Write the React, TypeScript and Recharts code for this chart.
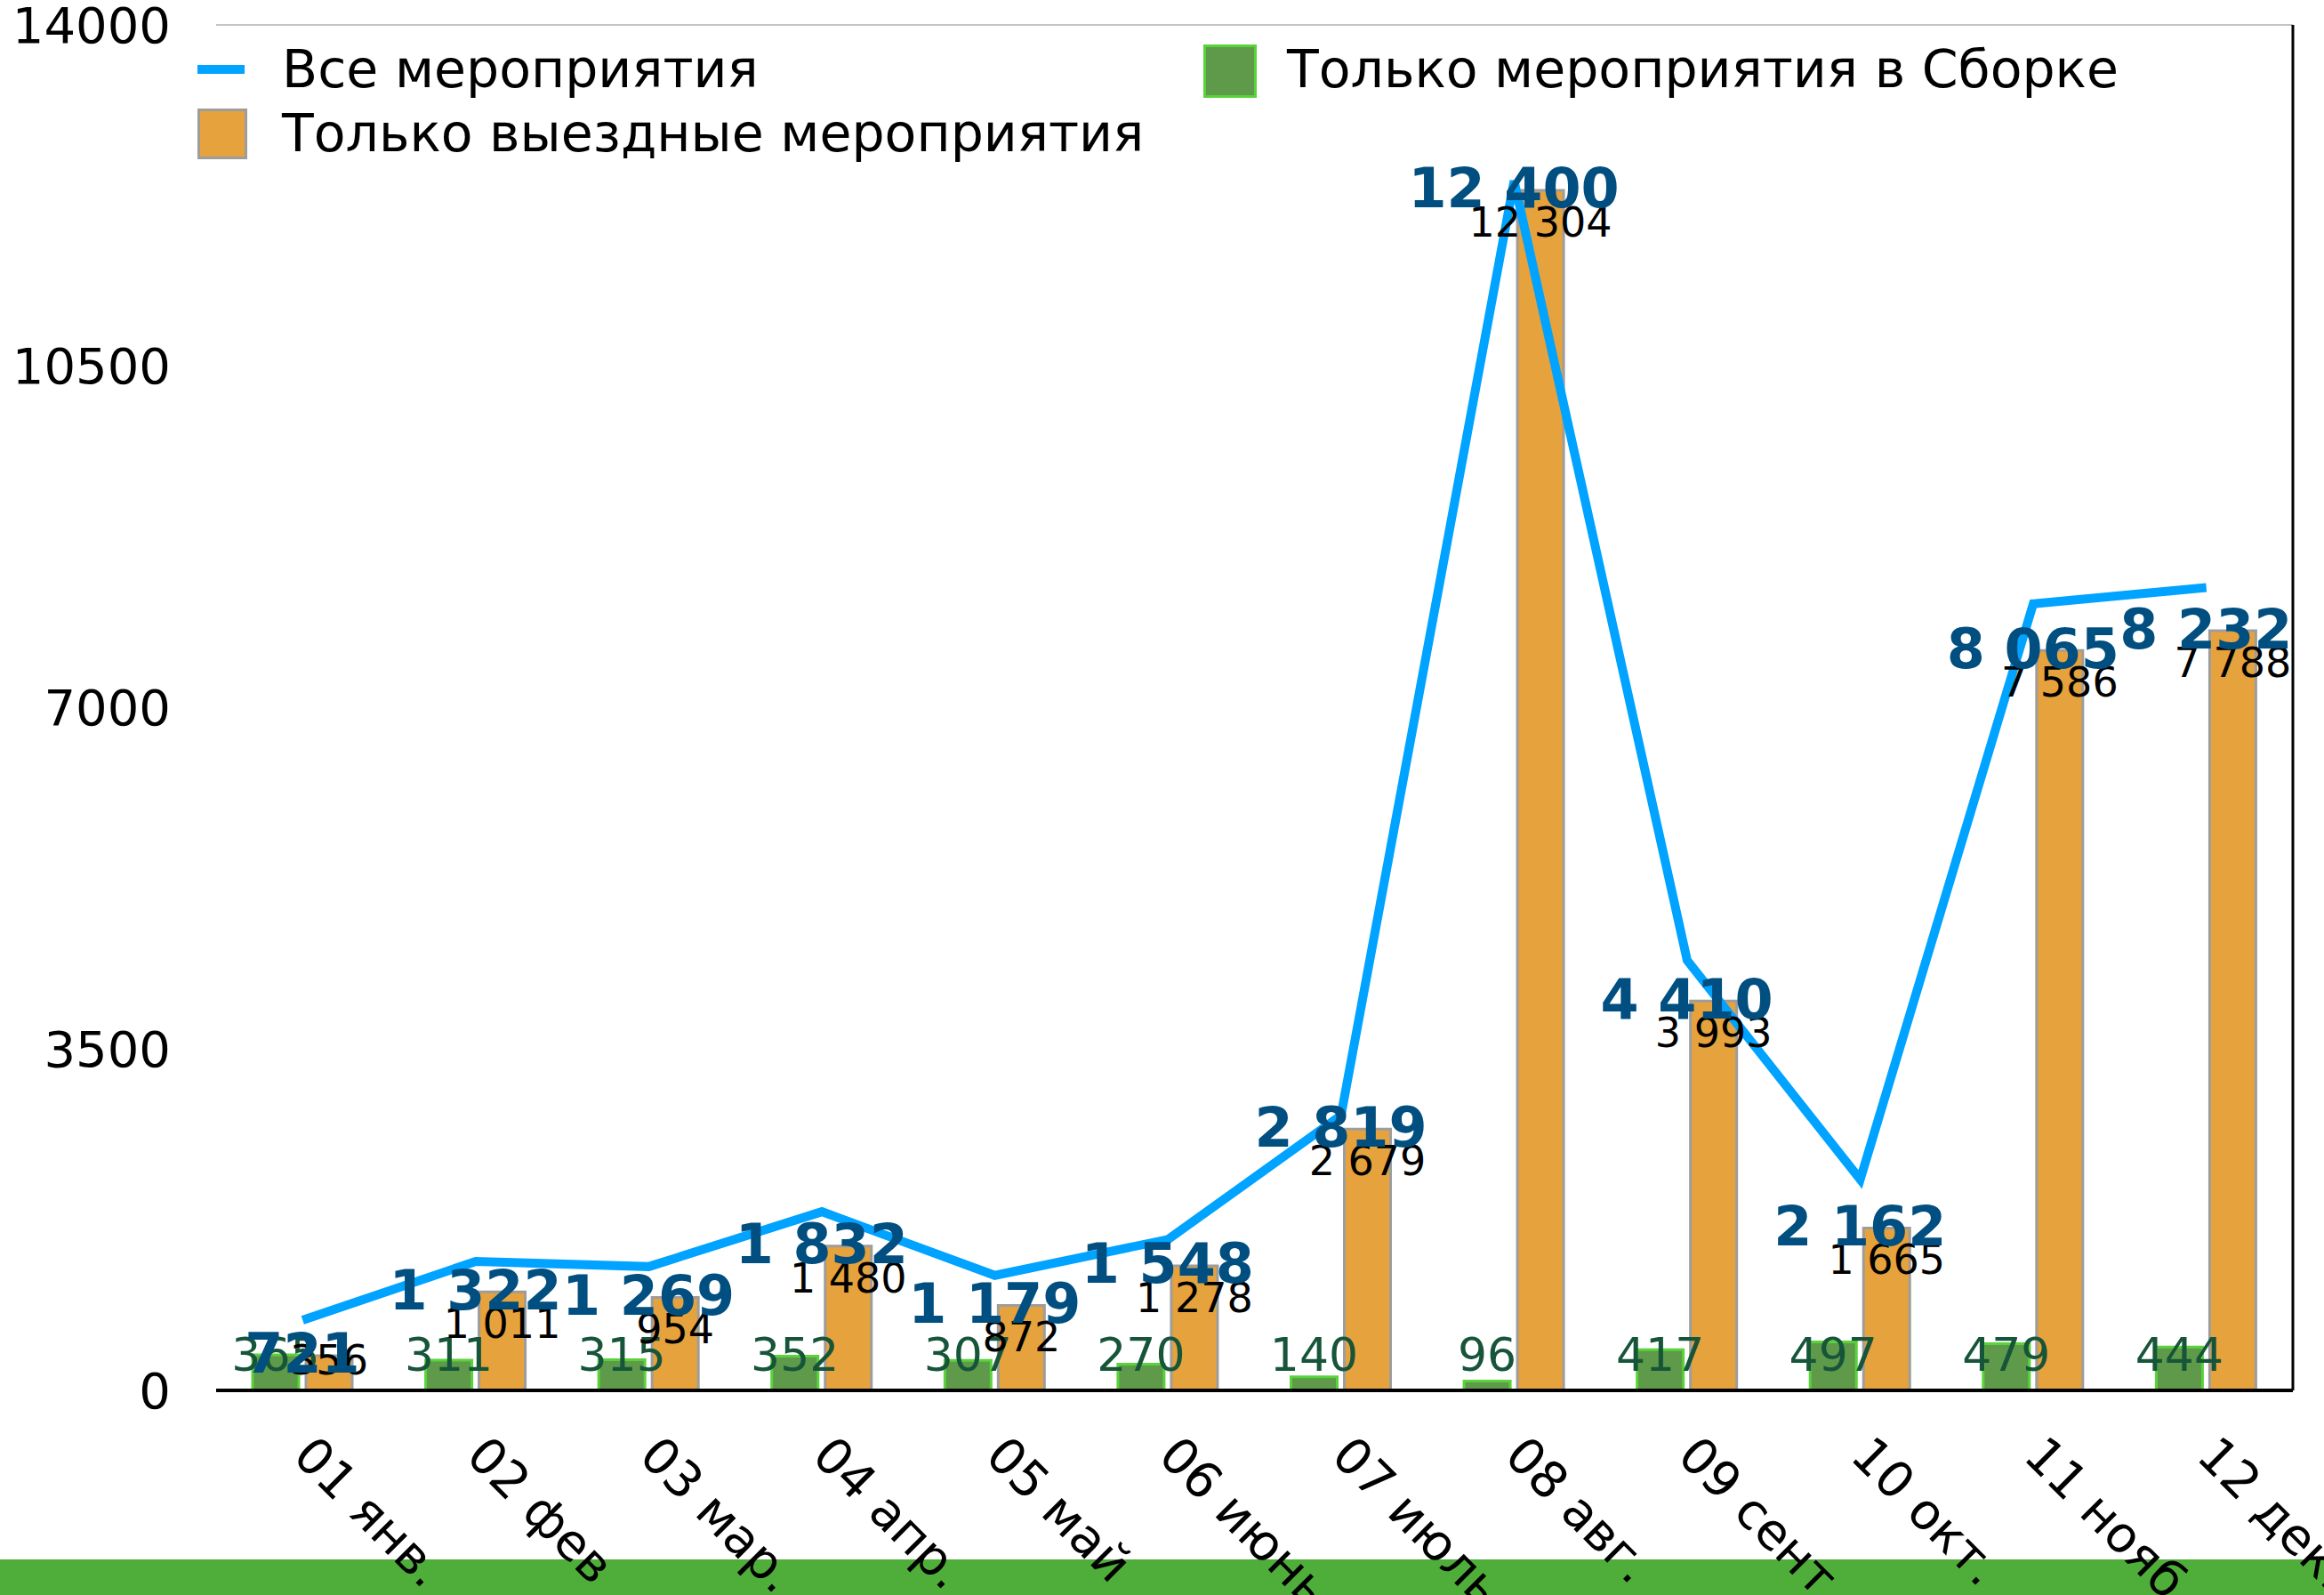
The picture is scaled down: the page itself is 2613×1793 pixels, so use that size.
import React from "react";
import { ComposedChart, Bar, Line, XAxis, YAxis, CartesianGrid, LabelList } from "recharts";

const months = ["01 янв.", "02 фев", "03 мар.", "04 апр.", "05 май", "06 июнь", "07 июль", "08 авг.", "09 сент.", "10 окт.", "11 нояб.", "12 дек."];
const allEvents = [721, 1322, 1269, 1832, 1179, 1548, 2819, 12400, 4410, 2162, 8065, 8232];
const awayEvents = [356, 1011, 954, 1480, 872, 1278, 2679, 12304, 3993, 1665, 7586, 7788];
const sborkaEvents = [365, 311, 315, 352, 307, 270, 140, 96, 417, 497, 479, 444];
const yTicks = [0, 3500, 7000, 10500, 14000];

const data = months.map((m, i) => ({ month: m, all: allEvents[i], away: awayEvents[i], sborka: sborkaEvents[i] }));

const FONT = "'DejaVu Sans', sans-serif";
const W = 2613;
const H = 1793;

// 12 400 -> "12 400"
const fmt = (v: number) => String(v).replace(/\B(?=(\d{3})+(?!\d))/g, " ");

const XTick = (props: any) => {
  const { x, y, payload } = props;
  const tx = x - 13;
  const ty = y + 76;
  return (
    <text x={tx} y={ty} transform={`rotate(45, ${tx}, ${ty})`} fontFamily={FONT} fontSize={56} fill="#000" textAnchor="start">
      {payload.value}
    </text>
  );
};

const YTick = (props: any) => {
  const { x, y, payload } = props;
  return (
    <text x={x - 51} y={y} fontFamily={FONT} fontSize={56} fill="#000" textAnchor="end" dominantBaseline="central">
      {payload.value}
    </text>
  );
};

const SborkaLabel = (props: any) => {
  const { x, y, width, height, value } = props;
  return (
    <text x={x + width / 2} y={y + height - 40} fontFamily={FONT} fontSize={52} fill="#17553a" textAnchor="middle" dominantBaseline="central">
      {fmt(value)}
    </text>
  );
};

const AwayLabel = (props: any) => {
  const { x, y, width, height, value } = props;
  // small bars: keep the label just above the base, like the original
  const cy = Math.min(y + 36, y + height - 34);
  return (
    <text x={x + width / 2} y={cy} fontFamily={FONT} fontSize={46} fill="#000" textAnchor="middle" dominantBaseline="central">
      {fmt(value)}
    </text>
  );
};

const AllLabel = (props: any) => {
  const { x, y, height, value } = props;
  const cy = Math.min(y - 2, y + height - 34);
  return (
    <text x={x - 4} y={cy} fontFamily={FONT} fontSize={62} fontWeight={700} fill="#004f80" textAnchor="middle" dominantBaseline="central">
      {fmt(value)}
    </text>
  );
};

const legendText: React.CSSProperties = {
  position: "absolute",
  fontFamily: FONT,
  fontSize: 58.5,
  lineHeight: "60px",
  color: "#000",
  whiteSpace: "nowrap",
};

export default function App() {
  return (
    <div style={{ position: "absolute", left: 0, top: 0, width: W, height: H, background: "#fff", overflow: "hidden" }}>
      <div style={{ position: "absolute", left: 0, top: 1753, width: W, height: 40, background: "#4fad3a" }} />
      <div style={{ position: "absolute", left: 0, top: 0 }}>
        <ComposedChart width={W} height={H} data={data} margin={{ top: 28, right: 34, bottom: 0, left: 0 }} barSize={52} barGap={8}>
          <CartesianGrid vertical={false} stroke="#c4c4c4" strokeWidth={2} />
          <XAxis dataKey="month" height={230} tickLine={false} tickSize={0} tickMargin={0} axisLine={{ stroke: "#000", strokeWidth: 4 }} tick={<XTick />} interval={0} />
          <YAxis yAxisId="l" width={243} domain={[0, 14000]} ticks={yTicks} axisLine={false} tickLine={false} tickSize={0} tickMargin={0} tick={<YTick />} />
          <YAxis yAxisId="r" orientation="right" width={1} domain={[0, 14000]} ticks={yTicks} tick={false} tickLine={false} axisLine={{ stroke: "#000", strokeWidth: 3 }} />
          <Bar yAxisId="l" dataKey="sborka" fill="#5e9a49" stroke="#5ad33b" strokeWidth={3} isAnimationActive={false}>
            <LabelList dataKey="sborka" content={<SborkaLabel />} />
          </Bar>
          <Bar yAxisId="l" dataKey="away" fill="#e6a23c" stroke="#9d9d9d" strokeWidth={3} isAnimationActive={false}>
            <LabelList dataKey="away" content={<AwayLabel />} />
            <LabelList dataKey="all" content={<AllLabel />} />
          </Bar>
          <Line yAxisId="l" dataKey="all" type="linear" stroke="#00a3ff" strokeWidth={10} dot={false} activeDot={false} isAnimationActive={false} />
        </ComposedChart>
      </div>
      {/* legend */}
      <div style={{ position: "absolute", left: 222, top: 73, width: 53, height: 10, background: "#00a3ff" }} />
      <div style={{ ...legendText, left: 317, top: 48 }}>Все мероприятия</div>
      <div style={{ position: "absolute", left: 1353, top: 50, width: 54, height: 54, background: "#5e9a49", border: "3px solid #5ad33b" }} />
      <div style={{ ...legendText, left: 1447, top: 48 }}>Только мероприятия в Сборке</div>
      <div style={{ position: "absolute", left: 222, top: 122, width: 50, height: 51, background: "#e6a23c", border: "3px solid #9d9d9d" }} />
      <div style={{ ...legendText, left: 317, top: 120 }}>Только выездные мероприятия</div>
    </div>
  );
}
